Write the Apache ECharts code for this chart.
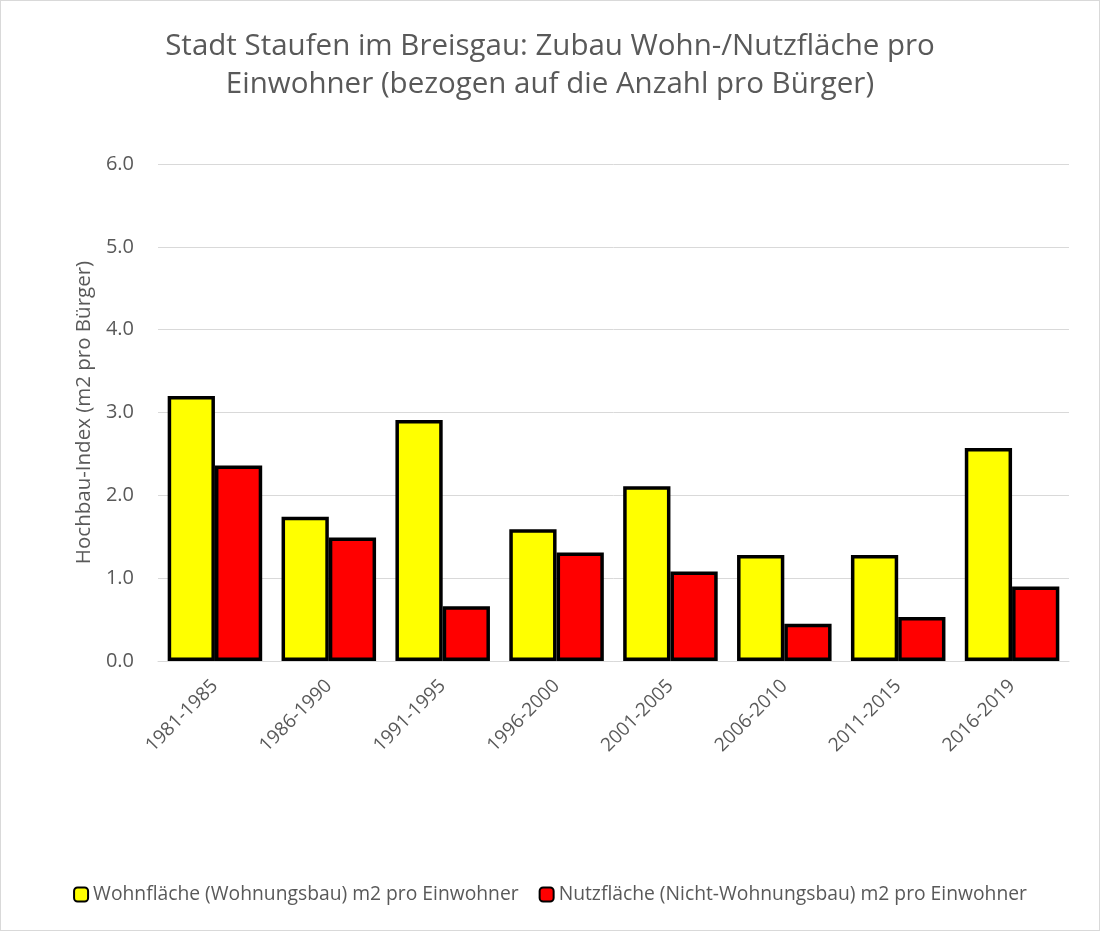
<!DOCTYPE html>
<html>
<head>
<meta charset="utf-8">
<script src="https://cdn.jsdelivr.net/npm/echarts@6/dist/echarts.min.js"></script>
<style>
html,body{margin:0;padding:0;background:#fff;}
#chart{width:1098px;height:929px;border:1px solid #d9d9d9;}
</style>
</head>
<body>
<div id="chart"></div>
<script>
const categories = ['1981-1985','1986-1990','1991-1995','1996-2000','2001-2005','2006-2010','2011-2015','2016-2019'];
const wohnflaeche = [3.20, 1.74, 2.91, 1.59, 2.11, 1.28, 1.28, 2.57];
const nutzflaeche = [2.36, 1.49, 0.66, 1.31, 1.08, 0.45, 0.53, 0.90];
const yTicks = [0, 1, 2, 3, 4, 5, 6];

const font = '"Open Sans", "DejaVu Sans", sans-serif';
const chart = echarts.init(document.getElementById('chart'));
chart.setOption({
  animation: false,
  textStyle: {fontFamily: font},
  title: {
    text: 'Stadt Staufen im Breisgau: Zubau Wohn-/Nutzfläche pro\nEinwohner (bezogen auf die Anzahl pro Bürger)',
    left: 'center',
    top: 22,
    textStyle: {fontFamily: font, fontSize: 29.5, fontWeight: 'normal', color: '#595959', lineHeight: 38}
  },
  legend: {
    bottom: 21,
    left: 'center',
    itemWidth: 14,
    itemHeight: 14,
    itemGap: 20,
    textStyle: {fontFamily: font, fontSize: 19.3, color: '#595959'},
    data: ['Wohnfläche (Wohnungsbau) m2 pro Einwohner', 'Nutzfläche (Nicht-Wohnungsbau) m2 pro Einwohner']
  },
  grid: {left: 157, right: 30, top: 163, bottom: 269},
  xAxis: {
    type: 'category',
    data: categories,
    axisLine: {show: true, lineStyle: {color: '#d9d9d9', width: 1}},
    axisTick: {show: false},
    axisLabel: {rotate: 45, color: '#595959', fontSize: 19, fontFamily: font, margin: 22}
  },
  yAxis: {
    type: 'value',
    min: yTicks[0],
    max: yTicks[yTicks.length - 1],
    interval: 1,
    name: 'Hochbau-Index (m2 pro Bürger)',
    nameLocation: 'middle',
    nameGap: 58,
    nameTextStyle: {fontFamily: font, fontSize: 20.5, color: '#595959'},
    axisLine: {show: false},
    axisTick: {show: false},
    splitLine: {lineStyle: {color: '#d9d9d9', width: 1}},
    axisLabel: {color: '#595959', fontSize: 20, fontFamily: font, margin: 24, formatter: v => v.toFixed(1)}
  },
  series: [
    {
      name: 'Wohnfläche (Wohnungsbau) m2 pro Einwohner',
      type: 'bar',
      data: wohnflaeche,
      barGap: '0%',
      barCategoryGap: '17%',
      itemStyle: {color: '#ffff00', borderColor: '#000', borderWidth: 3.5}
    },
    {
      name: 'Nutzfläche (Nicht-Wohnungsbau) m2 pro Einwohner',
      type: 'bar',
      data: nutzflaeche,
      barGap: '0%',
      barCategoryGap: '17%',
      itemStyle: {color: '#ff0000', borderColor: '#000', borderWidth: 3.5}
    }
  ]
});
</script>
</body>
</html>
